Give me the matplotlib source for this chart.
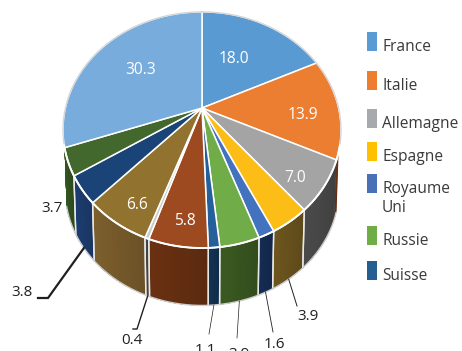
import matplotlib
matplotlib.use('Agg')
import matplotlib.pyplot as plt
from matplotlib.patches import Polygon
import numpy as np

plt.rcParams['font.family'] = ['Open Sans', 'DejaVu Sans']

# slices, clockwise from the top
values = [18.0, 13.9, 7.0, 3.9, 1.6, 3.9, 1.1, 5.8, 0.4, 6.6, 3.8, 3.7, 30.3]
top_colors = ['#5a9ad2', '#ec7e31', '#a3a4a3', '#fcbd17', '#4372bf', '#70ac48', '#25609a',
              '#9e4a20', '#c9c9c9', '#91722e', '#1a4478', '#43682e', '#78acdc']
wall_colors = ['#2e5f8e', '#6a3012', '#454545', '#66501c', '#142a50', '#37541f', '#113150',
               '#632e10', '#454545', '#75592a', '#1b3a6b', '#30521f', '#2e5f8e']
value_labels = ['18.0', '13.9', '7.0', '3.9', '1.6', '3.9', '1.1', '5.8', '0.4', '6.6', '3.8', '3.7', '30.3']

legend_names = ['France', 'Italie', 'Allemagne', 'Espagne', 'Royaume\nUni', 'Russie', 'Suisse']
legend_colors = ['#5b9bd5', '#ed7d31', '#a8a9ad', '#ffc000', '#4a70b8', '#70ad47', '#255e91']
legend_tops = [32, 71, 109, 142, 174, 226, 261]

# apex of the pie and perspective of the tilted disc, in pixels
CX, CY = 202, 108
A, B, K = 136.6, 114.0, -0.186
WALL_DROP, WALL_SCALE = 59.5, 0.985

# label layout: index of slice -> text position
inside_pos = {0: (234, 59), 1: (303, 115), 2: (295, 178), 7: (185, 221), 9: (137, 205), 12: (141, 70)}
outside_pos = {3: (308, 317), 4: (274, 345), 5: (239, 354), 6: (205, 350), 8: (132, 341), 10: (22, 293), 11: (52, 209)}
# leader lines go from the rim to these points
leaders = {3: [(297, 306)], 4: [(273, 332)], 5: [(237, 338)], 6: [(209, 334)],
           8: [(137, 329), (133, 329)], 10: [(48, 298), (38, 298)]}
leader_widths = {3: 0.7, 4: 0.6, 5: 0.5, 6: 0.5, 8: 1.0, 10: 1.6}


def top_xy(phi):
    u, v = np.sin(phi), -np.cos(phi)
    d = 1 + K * v
    return CX + A * u / d, CY + B * v / d


def wall_xy(phi):
    x, y = top_xy(phi)
    return CX + (x - CX) * WALL_SCALE, CY + WALL_DROP + (y - CY) * WALL_SCALE


def shade(color, f):
    return [min(1, c * f) for c in matplotlib.colors.to_rgb(color)]


fig = plt.figure(figsize=(4.62, 3.51), dpi=100)
ax = fig.add_axes([0, 0, 1, 1])

edges = np.cumsum([0] + values) / sum(values) * 2 * np.pi

# side walls, only the part facing the viewer
for i in range(len(values)):
    a0, a1 = max(edges[i], np.radians(111)), edges[i + 1]
    if a1 <= a0 or a0 > np.radians(250):
        continue
    # overlapping strips, each one reaches the far end of the slice so no seams show
    steps = max(4, int(np.degrees(a1 - a0)))
    starts = np.linspace(a0, a1, steps, endpoint=False)
    for j, s in enumerate(starts):
        t = np.linspace(s, a1, 40)
        tx, ty = top_xy(t)
        bx, by = wall_xy(t)
        pts = list(zip(tx, ty)) + list(zip(bx[::-1], by[::-1]))
        f = 0.92 + 0.16 * j / steps
        ax.add_patch(Polygon(pts, closed=True, fc=shade(wall_colors[i], f), ec='none', zorder=2))
    for a in (a0, a1):
        if np.radians(125) < a < np.radians(240):
            x0, y0 = top_xy(a)
            x1, y1 = wall_xy(a)
            ax.plot([x0, x1], [y0, y1], color='#e8e8e8', lw=1.0, zorder=3)

# light rim round the foot of the wall
rim = np.linspace(np.radians(112), np.radians(251), 200)
ax.plot(*wall_xy(rim), color='#cfcfcf', lw=1.0, zorder=3)

# top of the disc
for i in range(len(values)):
    t = np.linspace(edges[i], edges[i + 1], max(3, int(np.degrees(edges[i + 1] - edges[i])) + 2))
    x, y = top_xy(t)
    pts = [(CX, CY)] + list(zip(x, y))
    ax.add_patch(Polygon(pts, closed=True, fc=top_colors[i], ec='white', lw=1.1, zorder=4))

ring = np.linspace(0, 2 * np.pi, 361)
ax.plot(*top_xy(ring), color='#d4d4d4', lw=0.9, zorder=5)
front = np.linspace(np.radians(108), np.radians(252), 200)
ax.plot(*top_xy(front), color='white', lw=1.4, zorder=5)

# labels
for i, pos in inside_pos.items():
    ax.text(pos[0], pos[1], value_labels[i], color='white', fontsize=11.2, ha='center', va='center', zorder=6)
for i, pos in outside_pos.items():
    ax.text(pos[0], pos[1], value_labels[i], color='#231f20', fontsize=11, ha='center', va='center', zorder=6)
for i, pts in leaders.items():
    mid = (edges[i] + edges[i + 1]) / 2
    start = wall_xy(mid)
    xs = [start[0]] + [p[0] for p in pts]
    ys = [start[1]] + [p[1] for p in pts]
    ax.plot(xs, ys, color='#231f20', lw=leader_widths[i], zorder=6, solid_joinstyle='miter')

# legend
for name, col, top in zip(legend_names, legend_colors, legend_tops):
    ax.add_patch(plt.Rectangle((367, top), 10, 19, fc=col, ec='none'))
    ax.text(382, top + 15, name.split('\n')[0], color='#3a3a3c', fontsize=11.2, ha='left', va='center')
    if '\n' in name:
        ax.text(382, top + 34, name.split('\n')[1], color='#3a3a3c', fontsize=11.2, ha='left', va='center')

ax.set_xlim(0, 462)
ax.set_ylim(351, 0)
ax.axis('off')

fig.savefig('out.png', dpi=100)
